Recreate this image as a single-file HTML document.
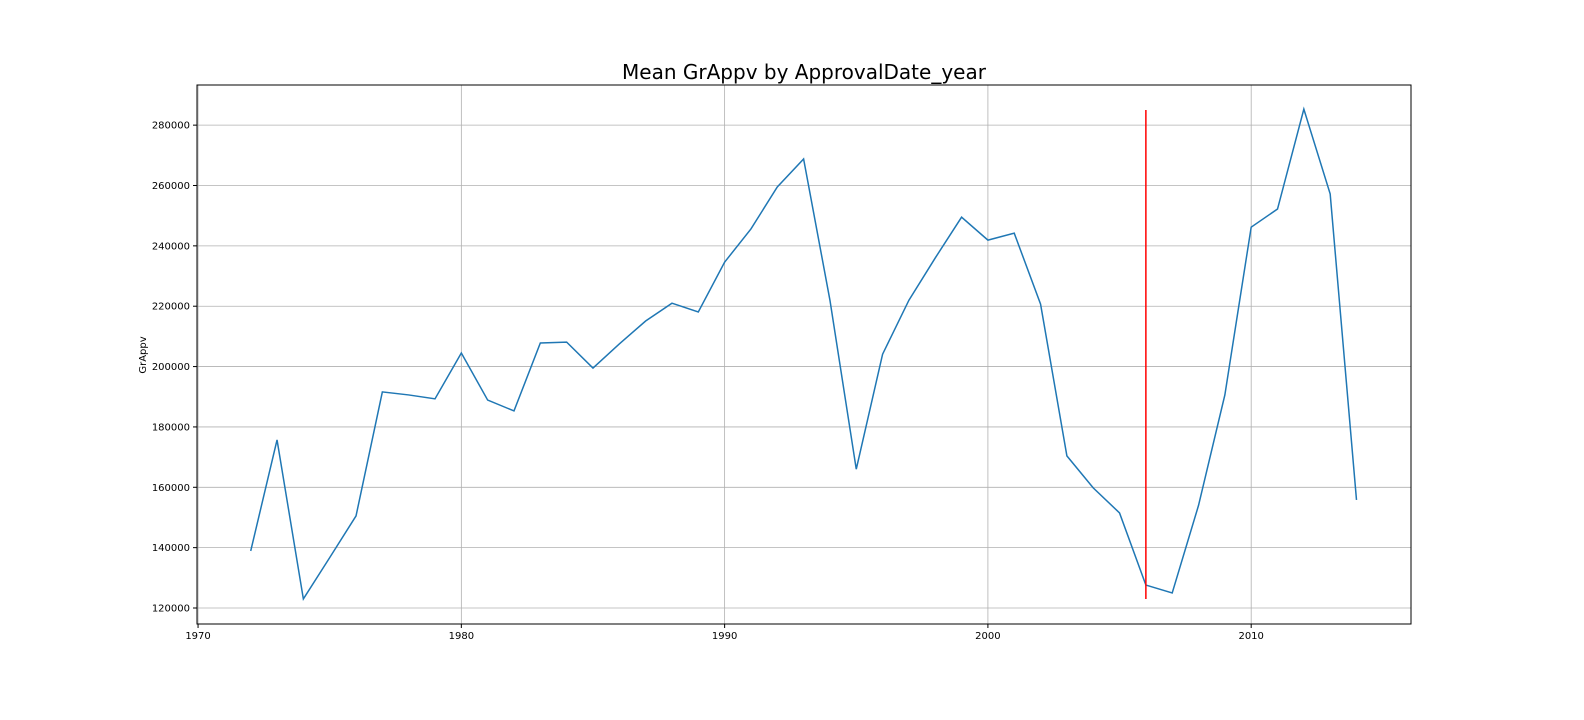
<!DOCTYPE html>
<html><head><meta charset="utf-8"><style>
body{margin:0;background:#fff;}
svg{display:block;font-family:"DejaVu Sans","Liberation Sans",sans-serif;}
</style></head><body>
<svg id="chart" width="1584" height="720">
<text x="804" y="79" font-size="20" text-anchor="middle">Mean GrAppv by ApprovalDate_year</text>
<text transform="translate(146,355) rotate(-90)" font-size="10" text-anchor="middle">GrAppv</text>
<g id="grid"></g><g id="ticks"></g><g id="series"></g>
<rect x="197" y="85" width="1214" height="539" fill="none" stroke="#000" stroke-width="1"/>
</svg>
<script>
const years=[1972,1973,1974,1975,1976,1977,1978,1979,1980,1981,1982,1983,1984,1985,1986,1987,1988,1989,1990,1991,1992,1993,1994,1995,1996,1997,1998,1999,2000,2001,2002,2003,2004,2005,2006,2007,2008,2009,2010,2011,2012,2013,2014];
const values=[138900,175700,123000,136700,150500,191600,190600,189300,204500,188900,185300,207800,208100,199500,207500,215100,221000,218100,234600,245600,259500,268800,222000,166000,204100,222000,236000,249500,241900,244200,220700,170400,159800,151500,127600,125000,154000,190600,246200,252200,285300,257200,155800];
const xTicks=[1970,1980,1990,2000,2010];
const yTicks=[120000,140000,160000,180000,200000,220000,240000,260000,280000];
const markerYear=2006;
const markerRange=[123000,285000];
const L=197,R=1411,T=85,B=624;
const X0=1969.96,X1=2016.07,Y0=114700,Y1=293300;
const sx=v=>L+(v-X0)/(X1-X0)*(R-L);
const sy=v=>B-(v-Y0)/(Y1-Y0)*(B-T);
const NS="http://www.w3.org/2000/svg";
function mk(tag,attrs,parent){const e=document.createElementNS(NS,tag);for(const k in attrs)e.setAttribute(k,attrs[k]);document.getElementById(parent).appendChild(e);return e;}
xTicks.forEach(t=>{const x=sx(t);
 const g=mk('line',{x1:x,x2:x,y1:T,y2:B,stroke:'#b0b0b0','stroke-width':0.8},'grid');
 
 
 mk('line',{x1:x,x2:x,y1:B,y2:B+4,stroke:'#000'},'ticks');
 const l=mk('text',{x:x,y:B+15,'font-size':10,'text-anchor':'middle'},'ticks');l.textContent=t;
 
 });
yTicks.forEach(t=>{const y=sy(t);
 const g=mk('line',{x1:L,x2:R,y1:y,y2:y,stroke:'#b0b0b0','stroke-width':0.8},'grid');
 
 
 mk('line',{x1:L-4,x2:L,y1:y,y2:y,stroke:'#000'},'ticks');
 const l=mk('text',{x:L-7,y:y+3.5,'font-size':10,'text-anchor':'end'},'ticks');l.textContent=t;
 
 });
const p=mk('polyline',{points:years.map((y,i)=>sx(y)+','+sy(values[i])).join(' '),fill:'none',stroke:'#1f77b4','stroke-width':1.5},'series');


const m=mk('line',{x1:sx(markerYear),x2:sx(markerYear),y1:sy(markerRange[0]),y2:sy(markerRange[1]),stroke:'red','stroke-width':1.5},'series');


</script>
</body></html>
